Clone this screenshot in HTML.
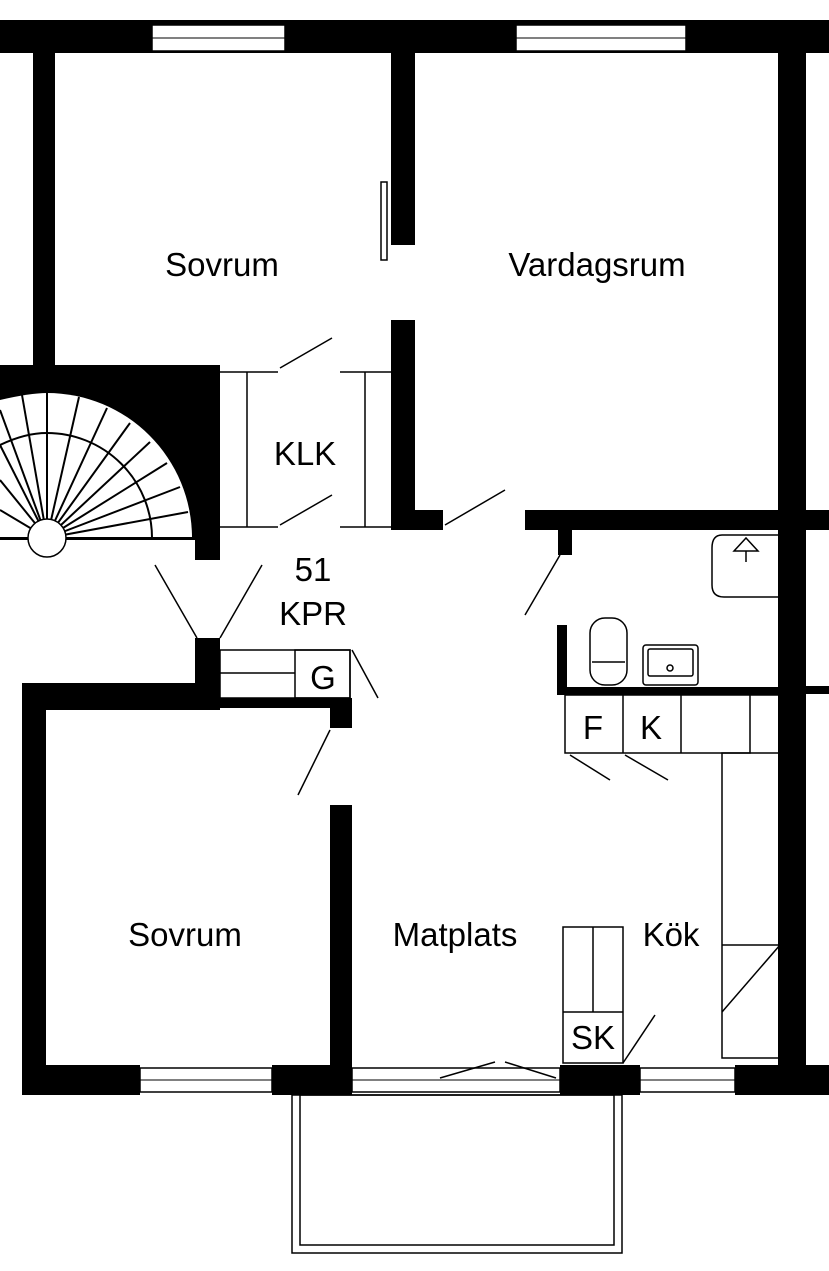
<!DOCTYPE html>
<html><head><meta charset="utf-8"><style>
html,body{margin:0;padding:0;background:#fff;}
svg{display:block}
text{font-family:"Liberation Sans",Arial,sans-serif;font-size:33px;fill:#000;}
</style></head><body>
<svg width="829" height="1271" viewBox="0 0 829 1271" xmlns="http://www.w3.org/2000/svg">
<rect width="829" height="1271" fill="#fff"/>
<g fill="#000">
<rect x="0" y="20" width="829" height="33"/>
<rect x="33" y="20" width="22" height="345"/>
<rect x="391" y="52" width="24" height="193"/>
<rect x="391" y="320" width="24" height="210"/>
<rect x="391" y="510" width="52" height="20"/>
<!-- stair block -->
<rect x="0" y="365" width="220" height="175"/>
<rect x="195" y="365" width="25" height="195"/>
<rect x="778" y="52" width="28" height="1040"/>
<rect x="525" y="510" width="304" height="20"/>
<rect x="558" y="530" width="14" height="25"/>
<rect x="557" y="625" width="10" height="70"/>
<rect x="557" y="687" width="223" height="8"/>
<rect x="806" y="686" width="23" height="8"/>
<rect x="195" y="638" width="25" height="72"/>
<rect x="22" y="683" width="198" height="27"/>
<rect x="22" y="683" width="24" height="412"/>
<rect x="220" y="698" width="132" height="10"/>
<rect x="330" y="698" width="22" height="30"/>
<rect x="330" y="805" width="22" height="290"/>
<rect x="22" y="1065" width="118" height="30"/>
<rect x="272" y="1065" width="80" height="30"/>
<rect x="560" y="1065" width="80" height="30"/>
<rect x="735" y="1065" width="94" height="30"/>
</g>
<g fill="#fff" stroke="#000" stroke-width="1.5">
<rect x="152" y="25" width="133" height="26"/>
<rect x="516" y="25" width="170" height="26"/>
<rect x="140" y="1068" width="132" height="24"/>
<rect x="352" y="1068" width="208" height="24"/>
<rect x="640" y="1068" width="95" height="24"/>
</g>
<g stroke="#000" stroke-width="1" fill="none">
<line x1="152" y1="38" x2="285" y2="38"/><line x1="516" y1="38" x2="686" y2="38"/>
<line x1="140" y1="1080" x2="272" y2="1080"/><line x1="352" y1="1080" x2="560" y2="1080"/>
<line x1="640" y1="1080" x2="735" y2="1080"/>
</g>
<!-- stair fan -->
<path d="M0 538 L0 400 A 200 143 0 0 1 192 538 Z" fill="#fff"/>
<path d="M0 538 L0 400 Q30 393 47 393 A145 145 0 0 1 192 538 Z" fill="#fff"/>
<g stroke="#000" stroke-width="2" fill="none">
<path d="M0 445 Q25 433 47 433 A105 105 0 0 1 152 538"/>
<line x1="47" y1="538" x2="22" y2="395"/>
<line x1="47" y1="538" x2="47" y2="393"/>
<line x1="47" y1="538" x2="79" y2="397"/>
<line x1="47" y1="538" x2="107" y2="408"/>
<line x1="47" y1="538" x2="130" y2="423"/>
<line x1="47" y1="538" x2="150" y2="442"/>
<line x1="47" y1="538" x2="167" y2="463"/>
<line x1="47" y1="538" x2="180" y2="487"/>
<line x1="47" y1="538" x2="188" y2="512"/>
<line x1="47" y1="538" x2="0" y2="410"/>
<line x1="47" y1="538" x2="0" y2="445"/>
<line x1="47" y1="538" x2="0" y2="480"/>
<line x1="47" y1="538" x2="0" y2="510"/>
<line x1="0" y1="538" x2="195" y2="538"/>
</g>
<circle cx="47" cy="538" r="19" fill="#fff" stroke="#000" stroke-width="1.5"/>
<g stroke="#000" stroke-width="1.5" fill="none">
<line x1="220" y1="372" x2="278" y2="372"/><line x1="220" y1="527" x2="278" y2="527"/>
<line x1="340" y1="372" x2="391" y2="372"/><line x1="340" y1="527" x2="391" y2="527"/>
<line x1="247" y1="372" x2="247" y2="527"/><line x1="365" y1="372" x2="365" y2="527"/>
<line x1="280" y1="368" x2="332" y2="338"/><line x1="280" y1="525" x2="332" y2="495"/>
<line x1="445" y1="525" x2="505" y2="490"/><line x1="525" y1="615" x2="560" y2="555"/>
<line x1="155" y1="565" x2="197" y2="638"/><line x1="262" y1="565" x2="220" y2="638"/>
<line x1="352" y1="650" x2="378" y2="698"/><line x1="298" y1="795" x2="330" y2="730"/>
<line x1="570" y1="755" x2="610" y2="780"/><line x1="625" y1="755" x2="668" y2="780"/>
<line x1="623" y1="1063" x2="655" y2="1015"/>
<line x1="440" y1="1078" x2="495" y2="1062"/><line x1="505" y1="1062" x2="556" y2="1078"/>
<rect x="381" y="182" width="6" height="78"/>
<rect x="220" y="650" width="130" height="48"/>
<line x1="220" y1="673" x2="295" y2="673"/>
<rect x="295" y="650" width="55" height="48"/>
<rect x="565" y="695" width="185" height="58"/>
<line x1="623" y1="695" x2="623" y2="753"/><line x1="681" y1="695" x2="681" y2="753"/>
<line x1="750" y1="695" x2="780" y2="695"/>
<rect x="722" y="753" width="58" height="305"/>
<line x1="722" y1="945" x2="780" y2="945"/>
<line x1="722" y1="1012" x2="780" y2="945"/>
<rect x="563" y="927" width="60" height="136"/>
<line x1="593" y1="927" x2="593" y2="1012"/><line x1="563" y1="1012" x2="623" y2="1012"/>
<path d="M778 535 L722 535 Q712 535 712 548 L712 585 Q712 597 724 597 L778 597"/>
<path d="M734 551 L746 538 L758 551 Z"/>
<line x1="746" y1="551" x2="746" y2="562"/>
<rect x="590" y="618" width="37" height="67" rx="15"/>
<line x1="592" y1="662" x2="625" y2="662"/>
<rect x="643" y="645" width="55" height="40" rx="3"/>
<rect x="648" y="649" width="45" height="27" rx="2"/>
<circle cx="670" cy="668" r="3"/>
<rect x="292" y="1095" width="330" height="158"/>
<rect x="300" y="1095" width="314" height="150"/>
</g>
<g>
<text x="222" y="276" text-anchor="middle">Sovrum</text>
<text x="597" y="276" text-anchor="middle">Vardagsrum</text>
<text x="305" y="465" text-anchor="middle">KLK</text>
<text x="313" y="581" text-anchor="middle">51</text>
<text x="313" y="625" text-anchor="middle">KPR</text>
<text x="323" y="689" text-anchor="middle">G</text>
<text x="593" y="739" text-anchor="middle">F</text>
<text x="651" y="739" text-anchor="middle">K</text>
<text x="185" y="946" text-anchor="middle">Sovrum</text>
<text x="455" y="946" text-anchor="middle">Matplats</text>
<text x="671" y="946" text-anchor="middle">Kök</text>
<text x="593" y="1049" text-anchor="middle">SK</text>
</g>
</svg>
</body></html>
